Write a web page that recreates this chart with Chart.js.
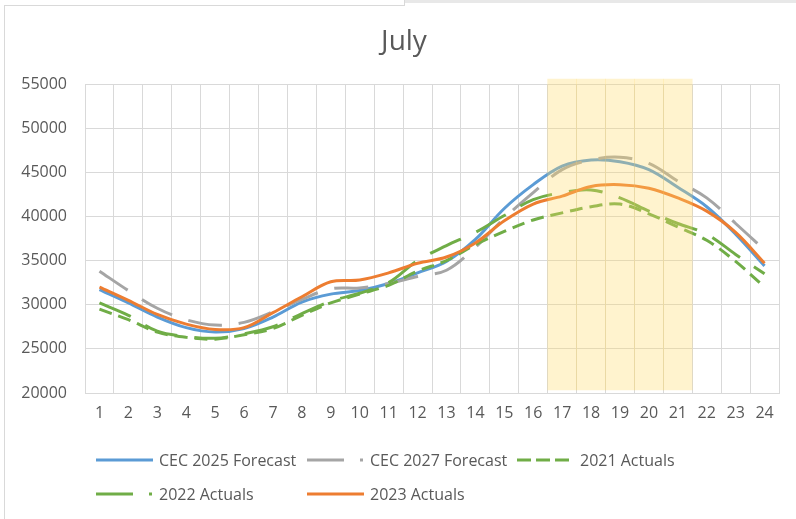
<!DOCTYPE html>
<html>
<head>
<meta charset="utf-8">
<script src="https://cdn.jsdelivr.net/npm/chart.js@4.4.1/dist/chart.umd.min.js"></script>
<style>
  html, body { margin: 0; padding: 0; background: #ffffff; }
  body { width: 796px; height: 519px; position: relative; overflow: hidden; }
  #chart { position: absolute; left: 0; top: 0; }
  .frame-left { position: absolute; left: 4px; top: 5px; width: 1px; height: 514px; background: #d9d9d9; }
  .frame-top { position: absolute; left: 4px; top: 5px; width: 401px; height: 1px; background: #d9d9d9; }
  .frame-step { position: absolute; left: 404px; top: 0; width: 1px; height: 6px; background: #d9d9d9; }
  .frame-bar { position: absolute; left: 405px; top: 0; width: 391px; height: 3px; background: #e8e8e8; }
</style>
</head>
<body>
<canvas id="chart" width="796" height="519"></canvas>
<div class="frame-left"></div>
<div class="frame-top"></div>
<div class="frame-step"></div>
<div class="frame-bar"></div>
<script>
// ---- data ----
const hours = ['1','2','3','4','5','6','7','8','9','10','11','12','13','14','15','16','17','18','19','20','21','22','23','24'];

const cec2025Forecast = [31700, 30200, 28600, 27400, 26900, 27300, 28600, 30300, 31200, 31600, 32400, 33600,
                         34900, 37400, 40900, 43600, 45700, 46400, 46200, 45300, 43300, 41100, 38000, 34400];

const cec2027Forecast = [33800, 31600, 29600, 28300, 27700, 28000, 29200, 30600, 31800, 31900, 32400, 33200,
                         33900, 36500, 39800, 42700, 45300, 46400, 46700, 46000, 44000, 42100, 39200, 36200];

const actuals2021 = [29500, 28300, 26900, 26300, 26100, 26600, 27300, 28800, 30200, 31200, 32200, 33800,
                     35000, 36800, 38300, 39600, 40400, 41100, 41400, 40300, 38800, 37300, 34900, 32000];

const actuals2022 = [30200, 28800, 27000, 26400, 26200, 26700, 27500, 29000, 30400, 31300, 32500, 35000,
                     36700, 38200, 40100, 41900, 42700, 43000, 42100, 40600, 39200, 38000, 35700, 33500];

const actuals2023 = [32000, 30500, 28900, 27800, 27200, 27400, 29100, 30900, 32600, 32800, 33600, 34700,
                     35400, 37000, 39500, 41400, 42300, 43400, 43600, 43200, 42100, 40600, 38200, 34700];

// highlighted peak window (hours 17-21), floating band extents
const peakBand = [null, null, null, null, null, null, null, null, null, null, null, null,
                  null, null, null, null, [20350, 55550], [20350, 55550], [20350, 55550], [20350, 55550], [20350, 55550],
                  null, null, null];

const yMin = 20000, yMax = 55000, yStep = 5000;
const chartTitle = 'July';

// ---- styling ----
const FONT = "'Open Sans', 'Liberation Sans', sans-serif";
const TEXT = '#595959';
const GRID = '#d9d9d9';

function lineSet(label, data, color, dash, legendDash, order) {
  return {
    type: 'line', label, data,
    borderColor: color, backgroundColor: color,
    borderWidth: 3, borderDash: dash, borderCapStyle: 'butt',
    pointRadius: 0, pointHoverRadius: 0, tension: 0.35, fill: false,
    order, legendDash
  };
}

const LONG_DASH = [34, 17];
const SHORT_DASH = [13, 7];
const LEGEND_LONG_DASH_DOT = [37, 16, 3, 200];

const datasets = [
  { type: 'bar', label: 'Peak', data: peakBand, backgroundColor: 'rgba(255,217,102,0.32)',
    borderWidth: 0, barPercentage: 1, categoryPercentage: 1, order: 0, clip: false, isBand: true },
  lineSet('CEC 2025 Forecast', cec2025Forecast, '#5B9BD5', [], [], 5),
  lineSet('CEC 2027 Forecast', cec2027Forecast, '#A5A5A5', LONG_DASH, LEGEND_LONG_DASH_DOT, 4),
  lineSet('2021 Actuals', actuals2021, '#70AD47', SHORT_DASH, [14, 5], 3),
  lineSet('2022 Actuals', actuals2022, '#70AD47', LONG_DASH, LEGEND_LONG_DASH_DOT, 2),
  lineSet('2023 Actuals', actuals2023, '#ED7D31', [], [], 1)
];

// title + Excel-style legend with fixed columns
const titleAndLegend = {
  id: 'titleAndLegend',
  afterDraw(chart) {
    const ctx = chart.ctx;
    ctx.save();
    // title
    ctx.font = '28px ' + FONT;
    ctx.fillStyle = TEXT;
    ctx.textAlign = 'center';
    ctx.textBaseline = 'alphabetic';
    ctx.fillText(chartTitle, 404, 50);

    // legend
    const cols = [96, 307, 517];
    const rows = [460, 494];
    const symLen = 57, textOff = 63;
    const items = chart.data.datasets.filter(d => !d.isBand);
    ctx.font = '16px ' + FONT;
    ctx.textBaseline = 'middle';
    ctx.textAlign = 'left';
    items.forEach((d, i) => {
      const x = cols[i % 3], y = rows[Math.floor(i / 3)];
      ctx.beginPath();
      ctx.setLineDash(d.legendDash || []);
      ctx.lineCap = 'butt';
      ctx.lineWidth = d.borderWidth;
      ctx.strokeStyle = d.borderColor;
      ctx.moveTo(x, y);
      ctx.lineTo(x + symLen, y);
      ctx.stroke();
      ctx.setLineDash([]);
      ctx.fillStyle = TEXT;
      ctx.fillText(d.label, x + textOff, y + 1);
    });
    ctx.restore();
  }
};

new Chart(document.getElementById('chart'), {
  data: { labels: hours, datasets },
  options: {
    responsive: false,
    animation: false,
    devicePixelRatio: 1,
    layout: { padding: { left: 0, right: 17, top: 84, bottom: 90 } },
    plugins: {
      legend: { display: false },
      tooltip: { enabled: false },
      title: { display: false }
    },
    scales: {
      x: {
        offset: true,
        grid: { offset: true, color: GRID, lineWidth: 1, drawTicks: false },
        border: { color: GRID, width: 1 },
        ticks: { color: TEXT, padding: 11, font: { family: FONT, size: 16 }, maxRotation: 0, autoSkip: false },
        afterFit(s) { s.height = 36; }
      },
      y: {
        min: yMin, max: yMax,
        grid: { color: GRID, lineWidth: 1, drawTicks: false },
        border: { color: GRID, width: 1 },
        ticks: { stepSize: yStep, color: TEXT, padding: 18, font: { family: FONT, size: 16 },
                 callback: v => String(v) },
        afterFit(s) { s.width = 85; }
      }
    }
  },
  plugins: [titleAndLegend]
});
</script>
</body>
</html>
